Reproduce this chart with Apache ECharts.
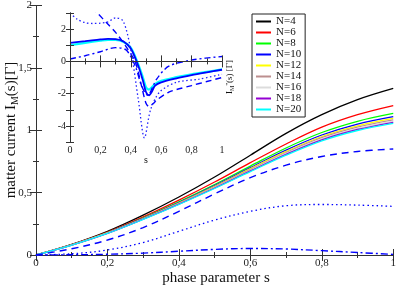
<!DOCTYPE html>
<html><head><meta charset="utf-8">
<script src="https://cdn.jsdelivr.net/npm/echarts@6/dist/echarts.min.js"></script>
<style>html,body{margin:0;padding:0;background:#fff}#c{width:399px;height:285px}</style>
</head><body><div id="c"></div>
<script>
// ---- main chart data ----
const sMain = [0, 0.1, 0.2, 0.3, 0.4, 0.5, 0.6, 0.7, 0.8, 0.9, 1.0];
const N4  = [0, 0.085, 0.19, 0.32, 0.465, 0.625, 0.80, 0.975, 1.125, 1.245, 1.335];
const N6  = [0, 0.083, 0.183, 0.305, 0.44, 0.585, 0.74, 0.89, 1.025, 1.125, 1.198];
const N8  = [0, 0.082, 0.18, 0.298, 0.427, 0.565, 0.713, 0.858, 0.982, 1.072, 1.135];
const N10 = [0, 0.081, 0.178, 0.294, 0.42, 0.556, 0.70, 0.841, 0.962, 1.05, 1.11];
const N12 = [0, 0.081, 0.177, 0.292, 0.416, 0.55, 0.692, 0.83, 0.95, 1.036, 1.095];
const N14 = [0, 0.08, 0.176, 0.29, 0.413, 0.545, 0.685, 0.821, 0.94, 1.025, 1.083];
const N16 = [0, 0.08, 0.175, 0.288, 0.41, 0.541, 0.679, 0.814, 0.931, 1.015, 1.073];
const N18 = [0, 0.08, 0.174, 0.287, 0.408, 0.537, 0.674, 0.807, 0.923, 1.006, 1.064];
const N20 = [0, 0.079, 0.173, 0.285, 0.405, 0.533, 0.668, 0.80, 0.915, 0.998, 1.055];
const dashedMain  = [0, 0.05, 0.12, 0.22, 0.35, 0.49, 0.62, 0.72, 0.79, 0.83, 0.85];
const dottedMain  = [0, 0.01, 0.04, 0.10, 0.19, 0.28, 0.35, 0.395, 0.405, 0.40, 0.39];
const dashdotMain = [0, 0.002, 0.006, 0.015, 0.03, 0.045, 0.052, 0.048, 0.035, 0.02, 0.005];
const seriesNames = ['N=4','N=6','N=8','N=10','N=12','N=14','N=16','N=18','N=20'];
const seriesColors = ['#000000','#ff0000','#00ff00','#0000ff','#ffff00','#bc8f8f','#dcdcdc','#9400d3','#00ffff'];
const mainValues = [N4, N6, N8, N10, N12, N14, N16, N18, N20];

// ---- inset data ----
const sInset      = [0, 0.1, 0.2, 0.25, 0.3, 0.35, 0.4, 0.45, 0.48, 0.5, 0.52, 0.54, 0.56, 0.6, 0.7, 0.8, 0.9, 1.0];
const insetN10    = [1.15, 1.25, 1.36, 1.4, 1.38, 1.25, 0.8, -0.3, -1.2, -1.9, -2.1, -1.85, -1.5, -1.3, -1.05, -0.85, -0.68, -0.52];
const insetN20    = [1.0, 1.15, 1.28, 1.33, 1.33, 1.22, 0.85, -0.2, -1.0, -1.6, -1.75, -1.6, -1.4, -1.2, -0.98, -0.8, -0.65, -0.5];
const sInsetDash  = [0, 0.1, 0.18, 0.25, 0.3, 0.37, 0.43, 0.47, 0.5, 0.52, 0.55, 0.57, 0.65, 0.7, 0.8, 0.9, 1.0];
const insetDashed = [4.6, 3.8, 3.0, 2.3, 1.8, 0.9, -0.05, -1.5, -2.6, -2.8, -2.6, -2.4, -1.9, -1.75, -1.5, -1.25, -1.0];
const sInsetDot   = [0, 0.05, 0.1, 0.15, 0.2, 0.25, 0.3, 0.35, 0.4, 0.45, 0.49, 0.53, 0.59, 0.7, 0.85, 1.0];
const insetDotted = [3.0, 2.6, 2.4, 2.35, 2.37, 2.45, 2.7, 2.5, 0.7, -2.4, -4.75, -3.0, -1.9, -1.3, -1.1, -0.8];
const sInsetDD    = [0, 0.1, 0.2, 0.3, 0.37, 0.43, 0.47, 0.51, 0.57, 0.65, 0.81, 1.0];
const insetDashDot= [0.15, 0.35, 0.6, 0.85, 0.7, -0.3, -1.5, -2.1, -1.1, -0.3, 0.1, 0.3];

const serif = 'Liberation Serif';
const pair = (xs, ys) => xs.map((x, i) => [x, ys[i]]);
const comma = v => String(+v.toFixed(2)).replace('.', ',');

const axisCommon = {
  axisLine: { show: true, lineStyle: { color: '#333', width: 1 } },
  splitLine: { show: false },
  axisTick: { show: true, inside: true, length: 6, lineStyle: { color: '#333' } },
  minorTick: { show: true, splitNumber: 2, length: 3, lineStyle: { color: '#333' } }
};

function xAx(grid, pos, labels, fs) {
  return Object.assign({}, axisCommon, {
    type: 'value', gridIndex: grid, position: pos, min: 0, max: 1, interval: 0.2,
    axisLabel: { show: labels, fontFamily: serif, fontSize: fs, color: '#222', margin: 3, formatter: comma, showMinLabel: true, showMaxLabel: true }
  });
}

const series = [];
mainValues.forEach((vals, i) => {
  series.push({ name: seriesNames[i], type: 'line', xAxisIndex: 0, yAxisIndex: 0, data: pair(sMain, vals),
    smooth: 0.35, showSymbol: false, lineStyle: { color: seriesColors[i], width: 1.3 }, itemStyle: { color: seriesColors[i] } });
});
series.push({ name: 'dashed', type: 'line', xAxisIndex: 0, yAxisIndex: 0, data: pair(sMain, dashedMain), smooth: 0.35, showSymbol: false,
  lineStyle: { color: '#0000ff', width: 1.4, type: [7, 5] } });
series.push({ name: 'dotted', type: 'line', xAxisIndex: 0, yAxisIndex: 0, data: pair(sMain, dottedMain), smooth: 0.35, showSymbol: false,
  lineStyle: { color: '#0000ff', width: 1.3, type: [1.5, 3] } });
series.push({ name: 'dashdot', type: 'line', xAxisIndex: 0, yAxisIndex: 0, data: pair(sMain, dashdotMain), smooth: 0.35, showSymbol: false,
  lineStyle: { color: '#0000ff', width: 1.4, type: [7, 3, 2, 3] } });
// inset
series.push({ name: 'in20', type: 'line', xAxisIndex: 2, yAxisIndex: 2, data: pair(sInset, insetN20), smooth: 0.3, showSymbol: false,
  lineStyle: { color: '#00ffff', width: 2.2 } , clip: true});
series.push({ name: 'in10', type: 'line', xAxisIndex: 2, yAxisIndex: 2, data: pair(sInset, insetN10), smooth: 0.3, showSymbol: false,
  lineStyle: { color: '#0000ff', width: 1.8 }, clip: true });
series.push({ name: 'inDash', type: 'line', xAxisIndex: 2, yAxisIndex: 2, data: pair(sInsetDash, insetDashed), smooth: 0.3, showSymbol: false,
  lineStyle: { color: '#0000ff', width: 1.4, type: [6, 4] }, clip: true });
series.push({ name: 'inDot', type: 'line', xAxisIndex: 2, yAxisIndex: 2, data: pair(sInsetDot, insetDotted), smooth: 0.3, showSymbol: false,
  lineStyle: { color: '#2020ff', width: 1.3, type: [1.5, 2.5] }, clip: true });
series.push({ name: 'inDD', type: 'line', xAxisIndex: 2, yAxisIndex: 2, data: pair(sInsetDD, insetDashDot), smooth: 0.3, showSymbol: false,
  lineStyle: { color: '#0000ff', width: 1.4, type: [6, 3, 2, 3] }, clip: true });

const option = {
  animation: false,
  backgroundColor: '#fff',
  grid: [
    { left: 36, top: 3, width: 360, height: 252, show: false },
    { left: 70, top: 13, width: 152, height: 129, show: true, backgroundColor: '#fff', borderWidth: 0, z: 3 }
  ],
  xAxis: [
    xAx(0, 'bottom', true, 11),
    xAx(0, 'top', false, 11),
    Object.assign(xAx(1, 'bottom', true, 10), { z: 4 }),
    Object.assign(xAx(1, 'top', false, 10), { z: 4 })
  ],
  yAxis: [
    Object.assign({}, axisCommon, { type: 'value', gridIndex: 0, position: 'left', min: 0, max: 2, interval: 0.5,
      axisLabel: { fontFamily: serif, fontSize: 11, color: '#222', margin: 4, formatter: comma } }),
    Object.assign({}, axisCommon, { type: 'value', gridIndex: 0, position: 'right', min: 0, max: 2, interval: 0.5,
      axisLabel: { show: false } }),
    Object.assign({}, axisCommon, { type: 'value', gridIndex: 1, position: 'left', min: -5, max: 3, interval: 1, z: 4,
      axisTick: { show: true, inside: true, length: 4, lineStyle: { color: '#333' } }, minorTick: { show: false },
      axisLabel: { fontFamily: serif, fontSize: 10, color: '#222', margin: 4,
        formatter: v => (v % 2 === 0 ? String(v) : '') } }),
    Object.assign({}, axisCommon, { type: 'value', gridIndex: 1, position: 'right', min: -5, max: 3, interval: 1, z: 4,
      axisTick: { show: true, inside: true, length: 4, lineStyle: { color: '#333' } }, minorTick: { show: false },
      axisLabel: { show: false } })
  ],
  legend: {
    data: seriesNames, orient: 'vertical', left: 252, top: 14,
    backgroundColor: '#fff', borderColor: '#222', borderWidth: 1, padding: [2, 4, 2, 4],
    itemGap: 0, itemWidth: 15, itemHeight: 2, icon: 'rect',
    textStyle: { fontFamily: serif, fontSize: 11, color: '#111', lineHeight: 10 }
  },
  graphic: [
    { type: 'text', x: 11, y: 130, rotation: Math.PI / 2,
      style: { text: 'matter current I{sub|M}(s)[Γ]', fontFamily: serif, fontSize: 15, fill: '#111', align: 'center', verticalAlign: 'middle',
        rich: { sub: { fontFamily: serif, fontSize: 10, fill: '#111', padding: [8, 0, 0, 0] } } } },
    { type: 'text', x: 216, y: 278,
      style: { text: 'phase parameter s', fontFamily: serif, fontSize: 15, fill: '#111', align: 'center', verticalAlign: 'middle' } },
    { type: 'text', x: 146, y: 160, z: 10,
      style: { text: 's', fontFamily: serif, fontSize: 10, fill: '#111', align: 'center', verticalAlign: 'middle' } },
    { type: 'text', x: 230, y: 77, rotation: Math.PI / 2, z: 10,
      style: { text: 'I{sub|M}{sup|\'\'}(s) [Γ]', fontFamily: serif, fontSize: 9, fill: '#111', align: 'center', verticalAlign: 'middle',
        rich: { sub: { fontFamily: serif, fontSize: 6, fill: '#111', padding: [5, 0, 0, 0] },
                sup: { fontFamily: serif, fontSize: 7, fill: '#111', padding: [0, 0, 4, 0] } } } }
  ],
  series: series
};
const chart = echarts.init(document.getElementById('c'), null, { renderer: 'canvas' });
chart.setOption(option);
</script>
</body></html>
